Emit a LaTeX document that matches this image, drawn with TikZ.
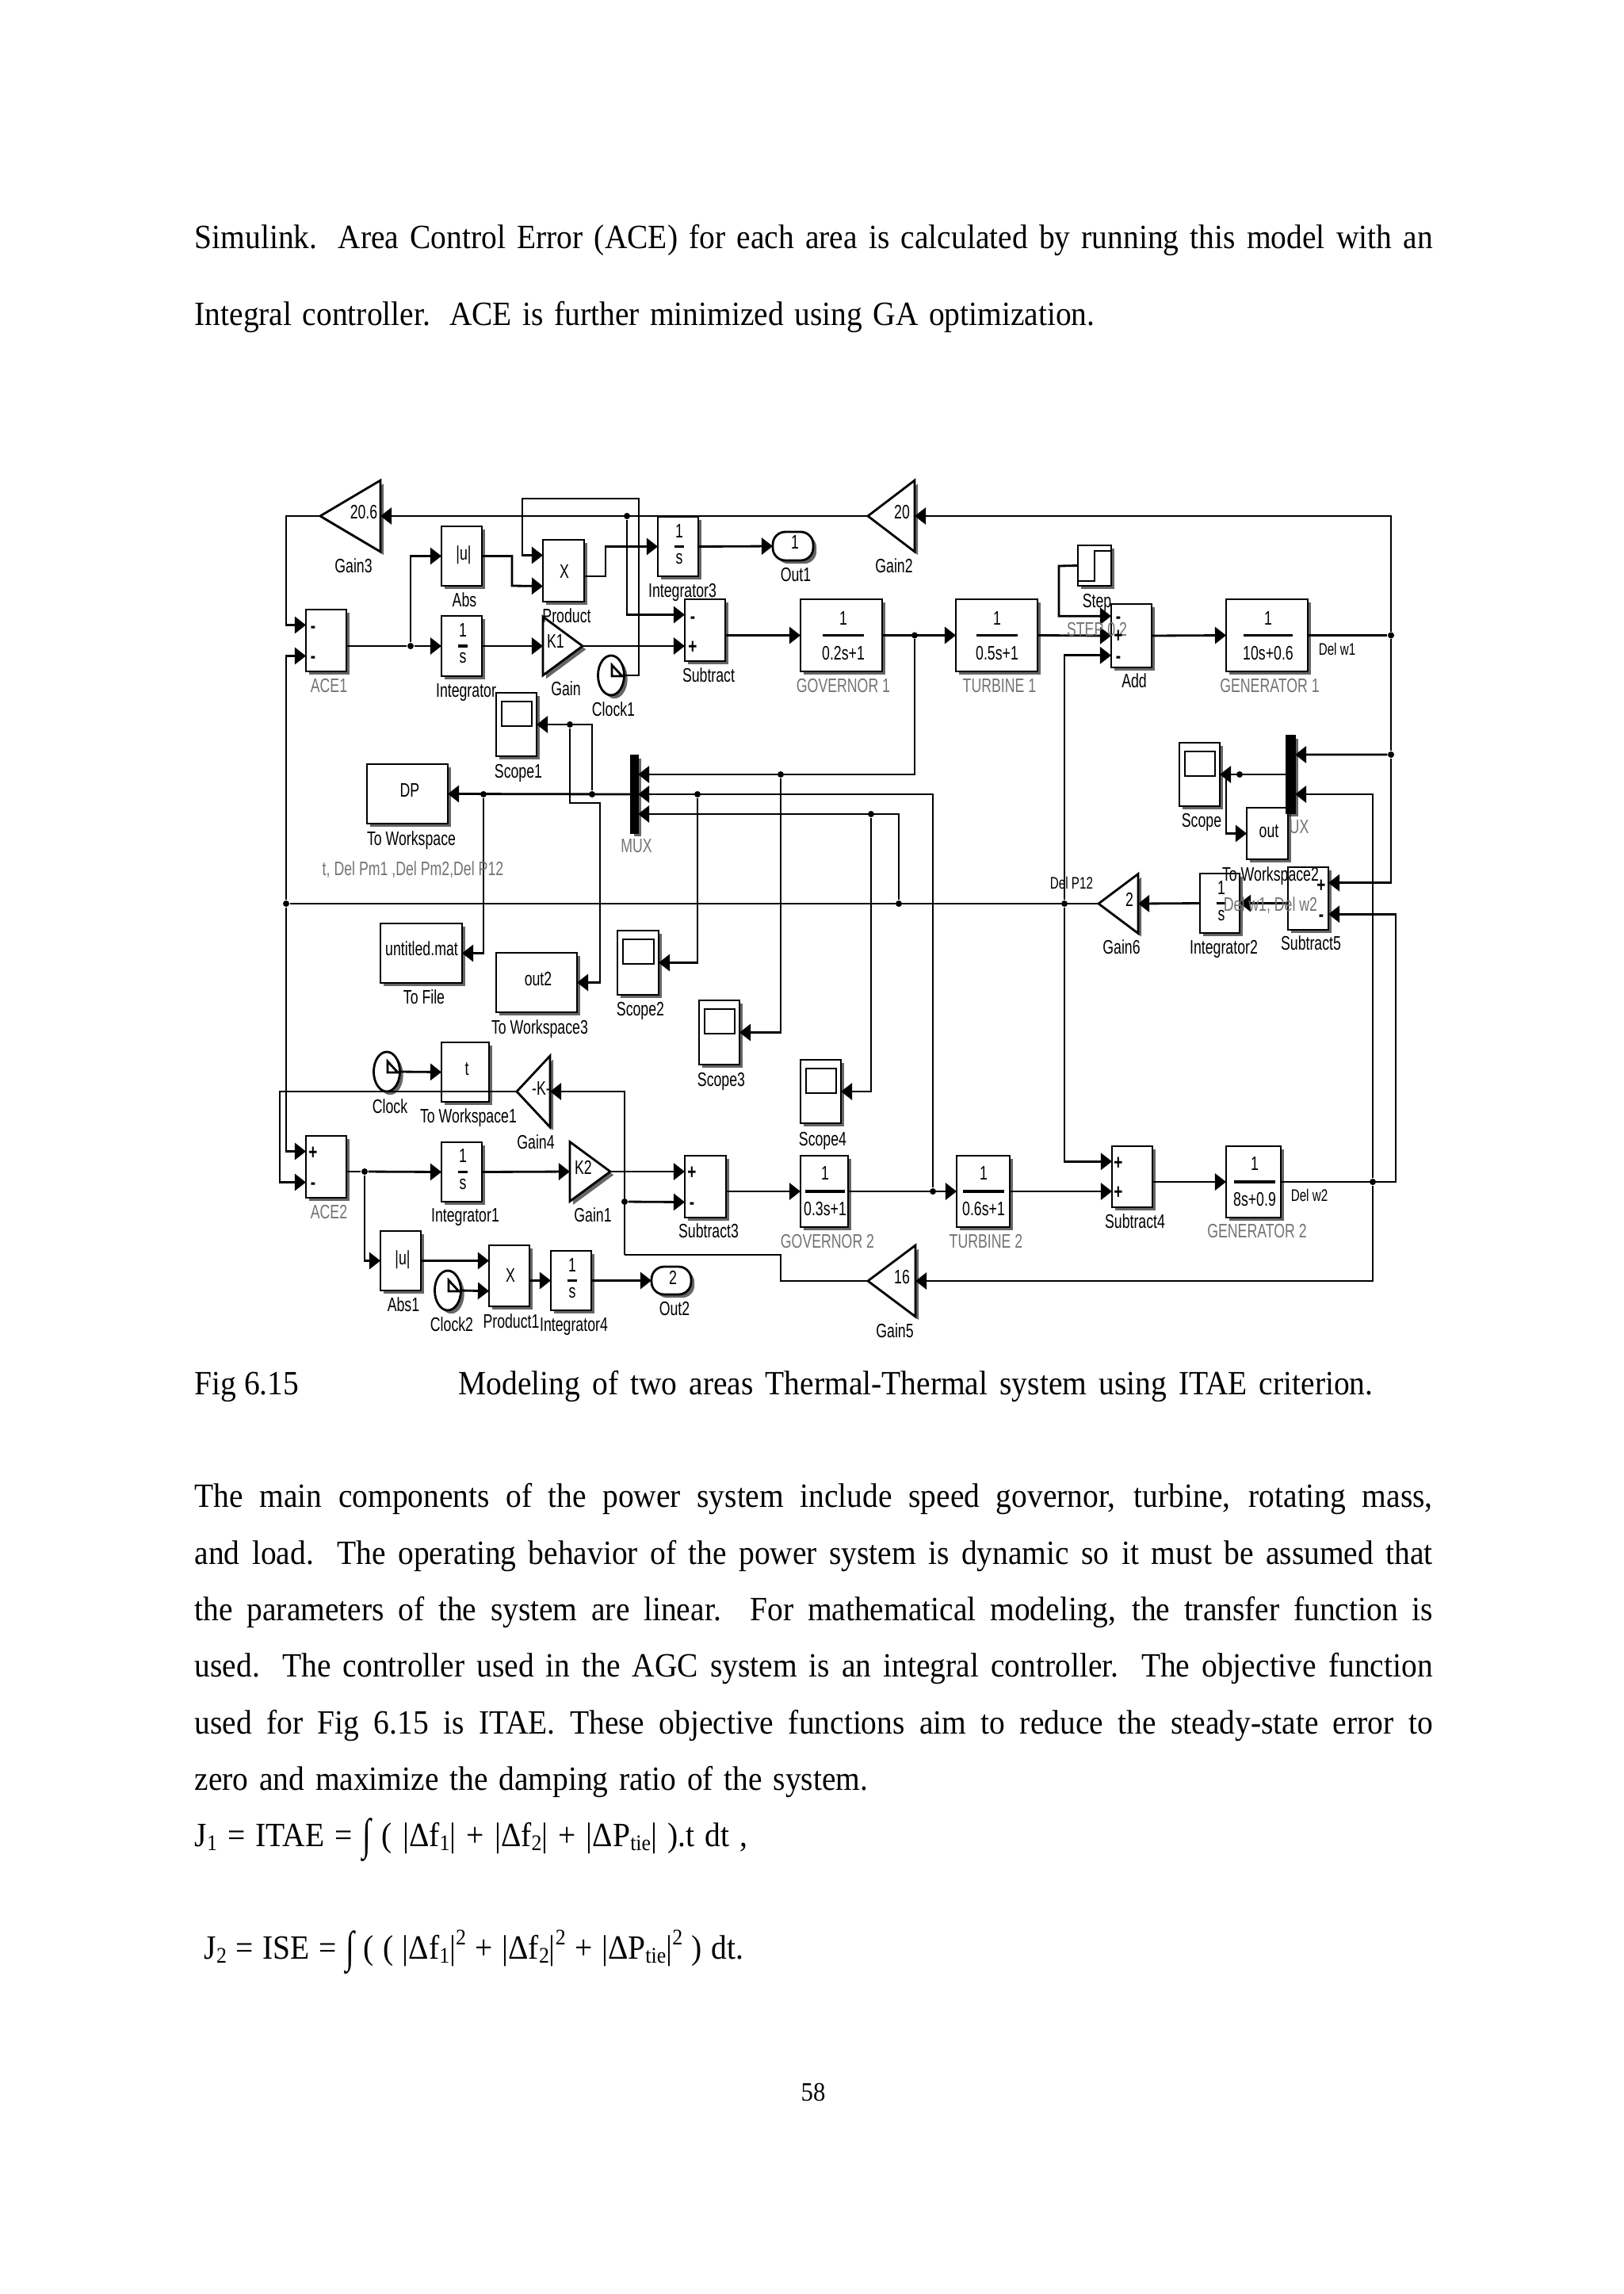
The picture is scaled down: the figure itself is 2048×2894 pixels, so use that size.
\documentclass[tikz,border=0pt]{standalone}
\usepackage{fontspec}
\setmainfont[FakeStretch=0.92]{Liberation Serif}
\newfontfamily\slfont[FakeStretch=0.72]{Liberation Sans}
\usetikzlibrary{arrows.meta,calc,shadows,shapes.geometric}

\newcommand{\bodyfont}{\fontsize{12.2}{14}\selectfont}
\newcommand{\lowidx}[1]{\raisebox{-0.3ex}{\fontsize{8}{9}\selectfont #1}}
\newcommand{\upidx}[1]{\raisebox{0.9ex}{\fontsize{8}{9}\selectfont #1}}
\newcommand{\intsign}{\raisebox{-.25ex}{\scalebox{1}[1.3]{∫}}}

\tikzset{
  arr/.style={-{Triangle[length=4pt,width=6pt]},line width=0.8pt},
  wir/.style={line width=0.8pt},
  shade box/.style={drop shadow={shadow xshift=1.2pt,shadow yshift=-1.2pt,opacity=.6,fill=black}},
  blockbox/.style={draw,line width=0.8pt,fill=white,inner sep=0pt,outer sep=0pt,shade box},
  tribox/.style={blockbox,isosceles triangle,isosceles triangle stretches,anchor=lower side},
  clockbox/.style={blockbox,ellipse},
  jdot/.style={circle,fill=black,inner sep=0pt,minimum size=0.08cm},
  labtext/.style={font=\slfont\fontsize{7}{8}\selectfont,inner sep=0pt,text height=5pt,text depth=0pt},
  graytext/.style={labtext,text=black!55},
  smalltext/.style={labtext,font=\slfont\fontsize{6}{7}\selectfont},
  signtext/.style={labtext,font=\bfseries\slfont\fontsize{7.5}{8}\selectfont},
  bodyline/.style={anchor=base west,inner sep=0pt,font=\bodyfont}
}

\begin{document}
\begin{tikzpicture}[x=0.01cm,y=-0.01cm]
  \useasboundingbox (0,0) rectangle (2048,2894);

  %% page text
  \node[bodyline] (top1) at (245,314) {\makebox[15.61cm][s]{Simulink. Area Control Error (ACE) for each area is calculated by running this model with an}};
  \node[bodyline] (top2) at (245,410) {\makebox[11.35cm][s]{Integral controller. ACE is further minimized using GA optimization.}};
  \node[bodyline] (capa) at (245,1759) {Fig 6.15};
  \node[bodyline] (capb) at (578,1759) {\makebox[11.53cm][s]{Modeling of two areas Thermal-Thermal system using ITAE criterion.}};
  \node[bodyline] (par1) at (245,1901) {\makebox[15.61cm][s]{The main components of the power system include speed governor, turbine, rotating mass,}};
  \node[bodyline] (par2) at (245,1973) {\makebox[15.61cm][s]{and load. The operating behavior of the power system is dynamic so it must be assumed that}};
  \node[bodyline] (par3) at (245,2044) {\makebox[15.61cm][s]{the parameters of the system are linear. For mathematical modeling, the transfer function is}};
  \node[bodyline] (par4) at (245,2115) {\makebox[15.61cm][s]{used. The controller used in the AGC system is an integral controller. The objective function}};
  \node[bodyline] (par5) at (245,2187) {\makebox[15.61cm][s]{used for Fig 6.15 is ITAE. These objective functions aim to reduce the steady-state error to}};
  \node[bodyline] (par6) at (245,2258) {\makebox[8.49cm][s]{zero and maximize the damping ratio of the system.}};
  \node[bodyline] (eq1) at (245,2329) {\makebox[6.97cm][s]{J\lowidx{1} = ITAE = \intsign{} ( |Δf\lowidx{1}| + |Δf\lowidx{2}| + |ΔP\lowidx{tie}| ).t dt ,}};
  \node[bodyline] (eq2) at (257,2471) {\makebox[6.8cm][s]{J\lowidx{2} = ISE = \intsign{} ( ( |Δf\lowidx{1}|\upidx{2} + |Δf\lowidx{2}|\upidx{2} + |ΔP\lowidx{tie}|\upidx{2} ) dt.}};
  \node[bodyline,anchor=base,font=\fontsize{9.5}{11}\selectfont] (pageno) at (1026,2650) {58};

  %% blocks
  \foreach \nm/\xa/\ya/\xb/\yb in {
    ace1/386/769/437/847, abs/557/664/608/739, int1/557/777/608/853, prod/685/681/737/759,
    int3/830/652/881/727, sub/864/756/915/834, gov1/1010/756/1113/847, tur1/1206/756/1309/847,
    step/1360/688/1402/739, add/1402/762/1453/842, gen1/1547/756/1650/847,
    dpws/463/964/565/1039, tofile/480/1165/583/1240, outws3/626/1202/728/1277,
    outws/1573/1019/1625/1084, int2/1514/1102/1564/1177, sub5/1625/1094/1676/1173,
    tws1/557/1315/617/1390, ace2/386/1433/437/1511, int1b/557/1441/608/1516,
    sub3/864/1458/916/1536, gov2/1010/1458/1070/1548, tur2/1207/1458/1274/1548,
    sub4/1403/1446/1454/1523, gen2/1547/1446/1616/1536, abs1/480/1553/531/1628,
    prod1/617/1571/668/1648, int4/695/1578/746/1653}{
    \node[blockbox,minimum width={(\xb-\xa)*0.01cm},minimum height={(\yb-\ya)*0.01cm}] (\nm) at ({(\xa+\xb)/2},{(\ya+\yb)/2}) {};
  }
  % scopes
  \foreach \nm/\xa/\ya/\xb/\yb in {
    scope1/626/874/677/954, scope2/779/1174/831/1255, scope3/882/1262/933/1343,
    scope4/1010/1337/1061/1417, scope/1488/937/1539/1017}{
    \node[blockbox,minimum width={(\xb-\xa)*0.01cm},minimum height={(\yb-\ya)*0.01cm}] (\nm) at ({(\xa+\xb)/2},{(\ya+\yb)/2}) {};
    \draw[wir] ({\xa+7},{\ya+11}) rectangle ({\xb-6},{\ya+42});
  }
  % muxes
  \foreach \nm/\xa/\ya/\xb/\yb in {mux1/796/953/805/1051, mux2/1623/928/1634/1026}{
    \node[blockbox,fill=black,minimum width={(\xb-\xa)*0.01cm},minimum height={(\yb-\ya)*0.01cm}] (\nm) at ({(\xa+\xb)/2},{(\ya+\yb)/2}) {};
  }
  % out ports
  \foreach \nm/\xa/\ya/\xb/\yb in {out1/975/671/1026/707, out2/822/1598/872/1633}{
    \node[blockbox,rounded corners=4.5pt,minimum width={(\xb-\xa)*0.01cm},minimum height={(\yb-\ya)*0.01cm}] (\nm) at ({(\xa+\xb)/2},{(\ya+\yb)/2}) {};
  }
  % gains
  \foreach \nm/\x/\y/\len/\hgt/\rot in {
    gain3/480/651/76/90/180, gain2/1154/651/59/90/180, gk1/685/815/50/74/0, gain6/1436/1140/50/75/180,
    gain4/694/1377/42/90/180, gk2/719/1478/51/75/0, gain5/1155/1616/60/90/180}{
    \node[tribox,shape border rotate=\rot,minimum height={\len*0.01cm},minimum width={\hgt*0.01cm}] (\nm) at (\x,\y) {};
  }
  % clocks
  \foreach \nm/\x/\y in {clk1/771/852, clk/488/1352, clk2/565/1628}{
    \node[clockbox,minimum width=0.33cm,minimum height=0.5cm] (\nm) at (\x,\y) {};
    \draw[wir] ({\x+1},{\y-13}) -- ({\x+1},{\y+1}) -- ({\x+14},{\y+1}) -- cycle;
  }
  \draw[wir] (1360,733) -- (1381,733) -- (1381,695) -- (1402,695);

  %% ports
  \foreach \nm in {ace1,prod,sub,ace2,sub3,sub4,prod1}{
    \coordinate (\nm-a) at ($(\nm.north west)!.25!(\nm.south west)$);
    \coordinate (\nm-b) at ($(\nm.north west)!.75!(\nm.south west)$);
  }
  \coordinate (add-a) at ($(add.north west)!.19!(add.south west)$);
  \coordinate (add-b) at (add.west);
  \coordinate (add-c) at ($(add.north west)!.81!(add.south west)$);
  \coordinate (mux1-a) at ($(mux1.north east)!.245!(mux1.south east)$);
  \coordinate (mux1-b) at (mux1.east);
  \coordinate (mux1-c) at ($(mux1.north east)!.755!(mux1.south east)$);
  \coordinate (mux2-a) at ($(mux2.north east)!.245!(mux2.south east)$);
  \coordinate (mux2-b) at ($(mux2.north east)!.755!(mux2.south east)$);
  \coordinate (sub5-a) at ($(sub5.north east)!.25!(sub5.south east)$);
  \coordinate (sub5-b) at ($(sub5.north east)!.75!(sub5.south east)$);
  \coordinate (prod-o) at (737,727);
  \coordinate (absb) at (646,739);
  \coordinate (c1a) at (806,629);
  \coordinate (c1b) at (659,629);
  \coordinate (pr3) at (764,708);
  \coordinate (st1) at (1336,714);
  \coordinate (w3a) at (757,1013);
  \coordinate (jb) at (1547,977);
  \coordinate (gl4) at (353,1377);
  \coordinate (wr2) at (1761,1491);
  \coordinate (g5a) at (985,1616);
  \coordinate (g5b) at (788,1583);

  %% junctions
  \foreach \nm/\x/\y in {
    jace1/518/815, jg/791/651, jgov1/1154/801.5, jw1/1755/801.5, jw1b/1755/952, jdp/1343/1140,
    jm3/1134/1140, busL/361/1140, jdp2/610/1002, jm/747/1002, jsc1/719/914, jm1/985/977,
    jm2/880/1002, jm4/1099/1027, js/1564/977, jace2/460/1478, jk2/788/1516, jgov2/1177/1503, jw2/1732/1491}{
    \node[jdot] (\nm) at (\x,\y) {};
  }

  %% top row
  \draw[arr] (gain2.apex) -- (gain3.lower side);
  \draw[wir] (gen1.east) -- (jw1);
  \draw[arr] (jw1) |- (gain2.lower side);
  \draw[wir] (jw1) -- (jw1b);
  \draw[arr] (jw1b) -- (mux2-a);
  \draw[arr] (jw1b) |- (sub5-a);
  \draw[arr] (gain3.apex) -| (busL |- ace1-a) -- (ace1-a);
  \draw[arr] (busL) |- (ace1-b);
  \draw[arr] (busL) |- (ace2-a);
  \draw[wir] (gain6.apex) -- (busL);
  \draw[wir] (ace1.east |- jace1) -- (jace1);
  \draw[arr] (jace1) -- (int1.west);
  \draw[arr] (jace1) |- (abs.west);
  \draw[arr] (abs.east) -| (absb) -- (prod-b);
  \draw[arr] (clk1.east) -| (c1a) -- (c1b) |- (prod-a);
  \draw[arr] (prod-o) -| (pr3) |- (int3.west);
  \draw[arr] (int3.east) -- (out1.west);
  \draw[arr] (int1.east) -- (gk1.lower side);
  \draw[arr] (gk1.apex) -- (gk1.apex -| sub-b);
  \draw[arr] (jg) |- (sub-a);
  \draw[arr] (sub.east |- gov1.west) -- (gov1.west);
  \draw[arr] (gov1.east) -- (tur1.west);
  \draw[arr] (jgov1) |- (mux1-a);
  \draw[arr] (tur1.east) -- (add-b);
  \draw[arr] (step.west) -- (st1) |- (add-a);
  \draw[arr] (add.east) -- (gen1.west);
  \draw[arr] (jdp) |- (add-c);
  \draw[arr] (jdp) |- (sub4-a);

  %% middle
  \draw[arr] (mux1.west) -- (dpws.east);
  \draw[arr] (jm) |- (scope1.east);
  \draw[arr] (jsc1) |- (w3a) |- (outws3.east);
  \draw[arr] (jdp2) |- (tofile.east);
  \draw[arr] (jgov2) |- (mux1-b);
  \draw[arr] (jm2) |- (scope2.east);
  \draw[arr] (jm1) |- (scope3.east);
  \draw[arr] (jm3) |- (mux1-c);
  \draw[arr] (jm4) |- (scope4.east);
  \draw[arr] (mux2.west) -- (scope.east);
  \draw[arr] (jb) |- (outws.west);
  \draw[arr] (sub5.west |- int2.east) -- (int2.east);
  \draw[arr] (int2.west) -- (gain6.lower side);
  \draw[arr] (clk.east) -- (tws1.west);

  %% bottom row
  \draw[arr] (gain4.apex) -- (gl4) |- (ace2-b);
  \draw[wir] (ace2.east |- jace2) -- (jace2);
  \draw[arr] (jace2) -- (int1b.west);
  \draw[arr] (jace2) |- (abs1.west);
  \draw[arr] (int1b.east) -- (gk2.lower side);
  \draw[arr] (gk2.apex) -- (gk2.apex -| sub3-a);
  \draw[arr] (jk2) -- (sub3-b);
  \draw[arr] (sub3.east |- gov2.west) -- (gov2.west);
  \draw[arr] (gov2.east) -- (tur2.west);
  \draw[arr] (tur2.east) -- (tur2.east -| sub4-b);
  \draw[arr] (sub4.east |- gen2.west) -- (gen2.west);
  \draw[arr] (gen2.east) -- (wr2) |- (sub5-b);
  \draw[arr] (jw2) |- (mux2-b);
  \draw[arr] (jw2) |- (gain5.lower side);
  \draw[wir] (gain5.apex) -- (g5a) |- (g5b);
  \draw[arr] (g5b) |- (gain4.lower side);
  \draw[arr] (abs1.east) -- (abs1.east -| prod1-a);
  \draw[arr] (clk2.east) -- (prod1-b);
  \draw[arr] (prod1.east |- int4.west) -- (int4.west);
  \draw[arr] (int4.east) -- (out2.west);

  %% fractions
  \foreach \nm/\xc/\num/\den/\bw/\up/\dn in {
    gov1/1064/1/0.2s+1/26/22/22, tur1/1258/1/0.5s+1/26/22/22, gen1/1600/1/10s+0.6/31/22/22,
    gov2/1041/1/0.3s+1/25/23/22, tur2/1241/1/0.6s+1/26/23/22, gen2/1583/1/8s+0.9/26/23/22,
    int1/584/1/s/6/20/13, int3/857/1/s/6/20/13, int1b/584/1/s/6/21/13, int4/722/1/s/6/20/13, int2/1541/1/s/6/20/13}{
    \draw[line width=0.9pt] ({\xc-\bw},0 |- \nm) -- ({\xc+\bw},0 |- \nm);
    \node[labtext] (\nm-num) at ($(\xc,0 |- \nm)+(0,-\up)$) {\num};
    \node[labtext] (\nm-den) at ($(\xc,0 |- \nm)+(0,\dn)$) {\den};
  }

  %% black labels
  \foreach \nm/\x/\y/\txt in {
    lgain3/446/714/Gain3, labs/586/757/Abs, lprod/715/777/Product, lint3/861/745/Integrator3,
    lint1/588/871/Integrator, lgk1/714/869/Gain, lclk1/774/895/Clock1, lsub/894/852/Subtract,
    lout1/1004/725/Out1, lgain2/1128/714/Gain2, lstep/1384/758/Step, ladd/1431/859/Add,
    lscope1/654/973/Scope1, ldpws/519/1058/To Workspace, ltofile/535/1258/To File,
    lws3/681/1296/To Workspace3, lscope2/808/1273/Scope2, lscope3/910/1362/Scope3,
    lscope/1516/1035/Scope, lws2/1603/1103/To Workspace2, lgain6/1415/1195/Gain6,
    lint2/1544/1195/Integrator2, lsub5/1654/1190/Subtract5, lclk/492/1396/Clock,
    ltws1/591/1408/To Workspace1, lgain4/676/1441/Gain4, lscope4/1038/1437/Scope4,
    lint1b/587/1533/Integrator1, lgk2/748/1533/Gain1, lsub3/894/1553/Subtract3,
    lsub4/1432/1541/Subtract4, labs1/509/1646/Abs1, lclk2/570/1671/Clock2,
    lprod1/645/1667/Product1, lint4/724/1671/Integrator4, lout2/851/1651/Out2, lgain5/1129/1679/Gain5,
    tg3/459/646/20.6, tg2/1138/646/20, tabs/585/698/|u|, tprod/712/721/X, tk1/701/809/K1,
    tout1/1003/684/1, tdp/517/997/DP, tfile/532/1197/untitled.mat, tws3/679/1235/out2,
    tws/1601/1048/out, tg6/1425/1135/2, twt/589/1348/t, tg4/683/1373/-K-, tk2/736/1473/K2,
    tg5/1138/1611/16, tprod1/644/1609/X, tabs1/508/1587/|u|, tout2/849/1612/2}{
    \node[labtext] (\nm) at (\x,\y) {\txt};
  }
  %% gray labels
  \foreach \nm/\x/\y/\txt in {
    lace1/415/865/ACE1, lgov1/1064/865/GOVERNOR 1, ltur1/1261/865/TURBINE 1, lgen1/1602/865/GENERATOR 1,
    lstp/1384/794/STEP 0.2, lmux/803/1067/MUX, lux/1639/1043/UX, ltimes/521/1096/{t, Del Pm1 ,Del Pm2,Del P12},
    ldelw/1603/1141/{Del w1, Del w2}, lace2/415/1529/ACE2, lgov2/1044/1566/GOVERNOR 2,
    ltur2/1244/1566/TURBINE 2, lgen2/1586/1553/GENERATOR 2}{
    \node[graytext] (\nm) at (\x,\y) {\txt};
  }
  %% small labels
  \foreach \nm/\x/\y/\txt in {ldw1/1687/818/Del w1, ldw2/1652/1507/Del w2, ldp/1352/1113/Del P12}{
    \node[smalltext] (\nm) at (\x,\y) {\txt};
  }
  %% signs
  \foreach \nm/\x/\y/\txt in {
    sa1/395/790/-, sa2/395/828/-, ss1/874/778/-, ss2/874/816/+, sd1/1411/778/-, sd2/1411/802/+, sd3/1411/828/-,
    sf1/1667/1117/+, sf2/1667/1154/-, sb1/395/1454/+, sb2/395/1492/-, sc1/873/1479/+, sc2/873/1517/-,
    se1/1411/1467/+, se2/1411/1504/+}{
    \node[signtext] (\nm) at (\x,\y) {\txt};
  }
\end{tikzpicture}
\end{document}
